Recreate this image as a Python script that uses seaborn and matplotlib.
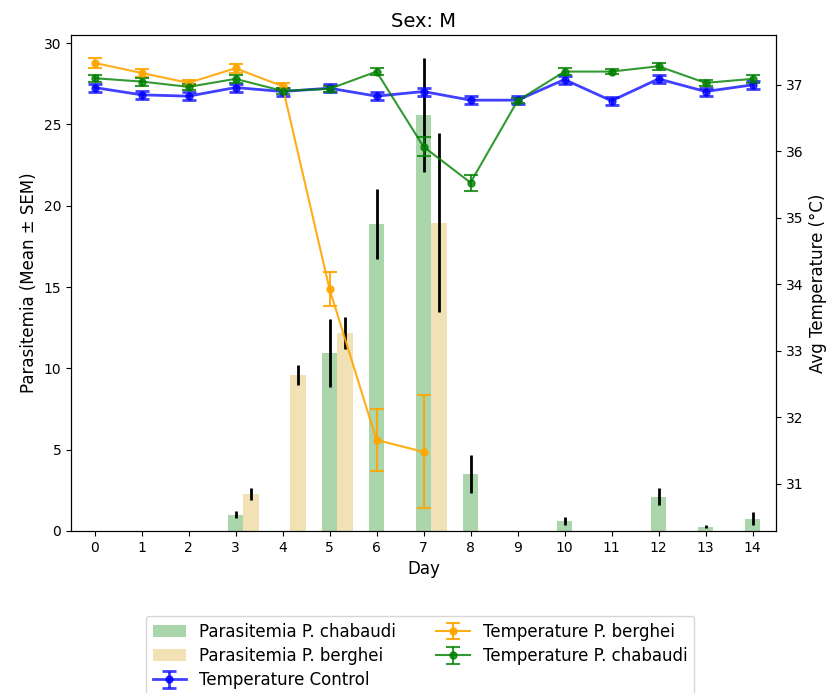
import numpy as np
import pandas as pd
import matplotlib
matplotlib.use("Agg")
import matplotlib.pyplot as plt
import seaborn as sns

# ---- data ----
days = list(range(15))

chab_days = [3, 5, 6, 7, 8, 10, 12, 13, 14]
chab_par = [0.99, 10.95, 18.86, 25.56, 3.50, 0.62, 2.12, 0.27, 0.76]
chab_par_sem = [0.22, 2.10, 2.15, 3.50, 1.15, 0.27, 0.50, 0.07, 0.38]

berg_days = [3, 4, 5, 7]
berg_par = [2.29, 9.59, 12.18, 18.95]
berg_par_sem = [0.37, 0.62, 1.00, 5.50]

temp_ctrl = [36.96, 36.85, 36.83, 36.96, 36.90, 36.95, 36.83, 36.90,
             36.77, 36.77, 37.08, 36.76, 37.09, 36.90, 37.00]
temp_ctrl_sem = [0.06] * 15

berg_temp_days = [0, 1, 2, 3, 4, 5, 6, 7]
temp_berg = [37.33, 37.18, 37.03, 37.25, 36.98, 33.93, 31.66, 31.48]
temp_berg_sem = [0.07, 0.06, 0.05, 0.07, 0.05, 0.25, 0.47, 0.85]

temp_chab = [37.10, 37.05, 36.97, 37.09, 36.91, 36.94, 37.20, 36.07,
             35.53, 36.76, 37.20, 37.20, 37.28, 37.03, 37.09]
temp_chab_sem = [0.05, 0.06, 0.05, 0.06, 0.05, 0.05, 0.05, 0.14,
                 0.12, 0.04, 0.05, 0.04, 0.05, 0.05, 0.06]

offset = 0.33
bar_w = 0.33

fig = plt.figure(figsize=(8.34, 6.93), dpi=100)
ax = fig.add_axes([71/834, 1-531/693, (776-71)/834, (531-35)/693])

df_c = pd.DataFrame({"day": chab_days, "val": chab_par})
df_b = pd.DataFrame({"day": [d + offset for d in berg_days], "val": berg_par})

sns.barplot(data=df_c, x="day", y="val", native_scale=True, width=bar_w,
            color="green", alpha=0.33, saturation=1, errorbar=None, ax=ax,
            label="Parasitemia P. chabaudi")
sns.barplot(data=df_b, x="day", y="val", native_scale=True, width=bar_w,
            color="goldenrod", alpha=0.33, saturation=1, errorbar=None, ax=ax,
            label="Parasitemia P. berghei")
if ax.get_legend() is not None:
    ax.get_legend().remove()
ax.errorbar(df_c["day"], df_c["val"], yerr=chab_par_sem, fmt="none",
            ecolor="black", elinewidth=2)
ax.errorbar(df_b["day"], df_b["val"], yerr=berg_par_sem, fmt="none",
            ecolor="black", elinewidth=2)

ax.set_xlim(-0.5, 14.5)
ax.set_ylim(0, 30.5)
ax.set_xticks(days)
ax.set_xticklabels([str(d) for d in days])
ax.set_yticks([0, 5, 10, 15, 20, 25, 30])
ax.tick_params(labelsize=10)
ax.set_xlabel("Day", fontsize=12)
ax.set_ylabel("Parasitemia (Mean ± SEM)", fontsize=12)
ax.set_title("Sex: M", fontsize=14)

ax2 = ax.twinx()
l1 = ax2.errorbar(days, temp_ctrl, yerr=temp_ctrl_sem, fmt="-o", color="blue",
                  capsize=5, capthick=2, markersize=5, linewidth=2, alpha=0.75,
                  label="Temperature Control")
l2 = ax2.errorbar(berg_temp_days, temp_berg, yerr=temp_berg_sem, fmt="-o",
                  color="orange", capsize=5, capthick=1.5, markersize=5,
                  linewidth=1.5, alpha=0.9, label="Temperature P. berghei")
l3 = ax2.errorbar(days, temp_chab, yerr=temp_chab_sem, fmt="-o", color="green",
                  capsize=5, capthick=1.5, markersize=5, linewidth=1.5,
                  alpha=0.8, label="Temperature P. chabaudi")
ax2.set_ylim(30.29, 37.75)
ax2.set_yticks([31, 32, 33, 34, 35, 36, 37])
ax2.tick_params(labelsize=10)
ax2.set_ylabel("Avg Temperature (°C)", fontsize=12)

h1, lab1 = ax.get_legend_handles_labels()
h1 = [h for h, l in zip(h1, lab1) if l.startswith("Parasitemia")]
lab1 = [l for l in lab1 if l.startswith("Parasitemia")]
handles = h1 + [l1, l2, l3]
labels = lab1 + ["Temperature Control", "Temperature P. berghei",
                 "Temperature P. chabaudi"]
fig.legend(handles, labels, loc="upper left", ncol=2,
           bbox_to_anchor=(146/834, 1-616/693), fontsize=12,
           borderaxespad=0, labelspacing=0.38, columnspacing=2.4)

fig.savefig("out.png", dpi=100)
